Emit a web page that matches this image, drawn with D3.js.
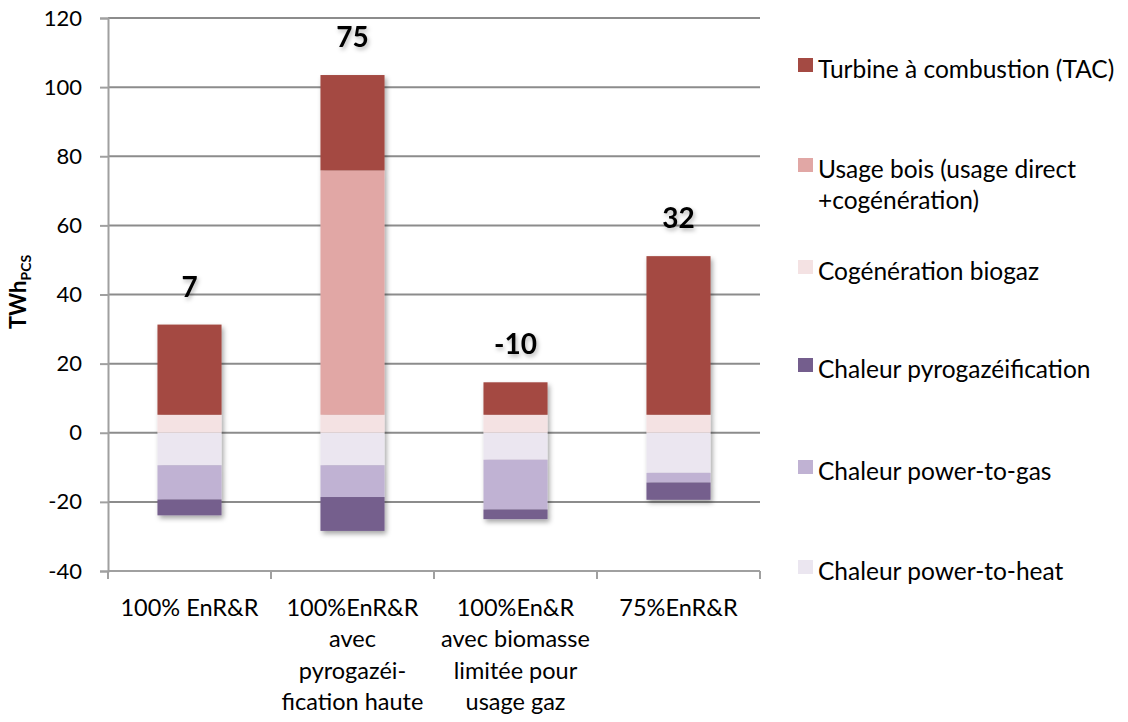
<!DOCTYPE html>
<html>
<head>
<meta charset="utf-8">
<script src="https://cdn.jsdelivr.net/npm/d3@7"></script>
<style>
  body { margin: 0; background: #fff; }
  svg { font-family: Lato, "Open Sans", sans-serif; }
</style>
</head>
<body>
<svg id="chart" width="1128" height="722"></svg>
<script>
// Scenario categories (multi-line labels)
const categories = [
  ["100% EnR&R"],
  ["100%EnR&R", "avec", "pyrogazéi-", "fication haute"],
  ["100%En&R", "avec biomasse", "limitée pour", "usage gaz"],
  ["75%EnR&R"]
];
const seriesNames = [
  "Chaleur power-to-heat",
  "Chaleur power-to-gas",
  "Chaleur pyrogazéification",
  "Cogénération biogaz",
  "Usage bois (usage direct +cogénération)",
  "Turbine à combustion (TAC)"
];
// TWh PCS per scenario, one array per series
const powerToHeat = [-9.4, -9.4, -7.8, -11.6];
const powerToGas  = [-9.9, -9.2, -14.4, -2.8];
const pyro        = [-4.6, -9.8, -2.8, -5.0];
const cogenBiogaz = [5.2, 5.2, 5.2, 5.2];
const usageBois   = [0, 70.7, 0, 0];
const tac         = [26.1, 27.6, 9.4, 45.9];
const totals      = [7, 75, -10, 32];
const yTicks      = [-40, -20, 0, 20, 40, 60, 80, 100, 120];

const colors = {
  "Turbine à combustion (TAC)": "#A44A43",
  "Usage bois (usage direct +cogénération)": "#E1A7A5",
  "Cogénération biogaz": "#F4E2E3",
  "Chaleur pyrogazéification": "#745E8D",
  "Chaleur power-to-gas": "#C0B2D3",
  "Chaleur power-to-heat": "#EBE6F0"
};

const svg = d3.select("#chart");
const defs = svg.append("defs");
const f = defs.append("filter").attr("id", "shadow")
  .attr("x", "-20%").attr("y", "-20%").attr("width", "140%").attr("height", "140%");
f.append("feDropShadow").attr("dx", 2).attr("dy", 3).attr("stdDeviation", 2.5)
  .attr("flood-color", "#000").attr("flood-opacity", 0.35);
const ft = defs.append("filter").attr("id", "tshadow")
  .attr("x", "-30%").attr("y", "-30%").attr("width", "160%").attr("height", "160%");
ft.append("feDropShadow").attr("dx", 1.5).attr("dy", 2.5).attr("stdDeviation", 2)
  .attr("flood-color", "#000").attr("flood-opacity", 0.3);

const plotLeft = 108, plotRight = 760, plotTop = 18, plotBottom = 571;
const x = d3.scaleBand().domain(d3.range(categories.length)).range([plotLeft, plotRight])
  .paddingInner(0.607).paddingOuter(0.3035);
const y = d3.scaleLinear().domain([-40, 120]).range([plotBottom, plotTop]);

// Gridlines
svg.append("g").selectAll("line").data(yTicks.filter(t => t !== -40)).join("line")
  .attr("x1", plotLeft).attr("x2", plotRight)
  .attr("y1", d => y(d)).attr("y2", d => y(d))
  .attr("stroke", "#8c8c8c").attr("stroke-width", 2);

// Y axis (plain hyphen for negatives)
const yAxis = svg.append("g").attr("transform", `translate(${plotLeft},0)`)
  .call(d3.axisLeft(y).tickValues(yTicks).tickFormat(d => String(d)).tickSize(8).tickPadding(18));
yAxis.select(".domain").attr("stroke", "#a0a0a0").attr("stroke-width", 2);
yAxis.selectAll(".tick line").attr("stroke", "#a0a0a0").attr("stroke-width", 2);
yAxis.selectAll(".tick text").attr("font-size", 22).attr("fill", "#000")
  .attr("font-family", "Lato, sans-serif");

// X axis baseline with category separators
const xAxisG = svg.append("g");
xAxisG.append("line").attr("x1", plotLeft).attr("x2", plotRight).attr("y1", plotBottom).attr("y2", plotBottom)
  .attr("stroke", "#a0a0a0").attr("stroke-width", 2);
const step = (plotRight - plotLeft) / categories.length;
xAxisG.selectAll("line.sep").data(d3.range(categories.length + 1)).join("line").attr("class", "sep")
  .attr("x1", i => plotLeft + i * step).attr("x2", i => plotLeft + i * step)
  .attr("y1", plotBottom).attr("y2", plotBottom + 8)
  .attr("stroke", "#a0a0a0").attr("stroke-width", 2);

// Category labels
categories.forEach((lines, i) => {
  const cx = x(i) + x.bandwidth() / 2;
  const t = svg.append("text").attr("text-anchor", "middle").attr("font-size", 23.5).attr("fill", "#000")
    .attr("x", cx).attr("y", 616);
  lines.forEach((l, k) => t.append("tspan").attr("x", cx).attr("dy", k === 0 ? 0 : 31.3).text(l));
});

// Stacked bars (positives upward from 0, negatives downward from 0)
const seriesData = {
  "Chaleur power-to-heat": powerToHeat,
  "Chaleur power-to-gas": powerToGas,
  "Chaleur pyrogazéification": pyro,
  "Cogénération biogaz": cogenBiogaz,
  "Usage bois (usage direct +cogénération)": usageBois,
  "Turbine à combustion (TAC)": tac
};
const barsG = svg.append("g");
categories.forEach((c, i) => {
  let pos = 0, neg = 0;
  const g = barsG.append("g").attr("filter", "url(#shadow)");
  seriesNames.forEach(name => {
    const v = seriesData[name][i];
    if (v === 0) return;
    let y0, y1;
    if (v > 0) { y0 = pos; y1 = pos + v; pos = y1; }
    else { y0 = neg; y1 = neg + v; neg = y1; }
    g.append("rect")
      .attr("x", x(i)).attr("width", x.bandwidth())
      .attr("y", y(Math.max(y0, y1))).attr("height", Math.abs(y(y0) - y(y1)))
      .attr("fill", colors[name]);
  });
  svg.append("text").attr("text-anchor", "middle").attr("font-size", 28).attr("font-weight", "bold")
    .attr("filter", "url(#tshadow)")
    .attr("x", x(i) + x.bandwidth() / 2).attr("y", y(pos) - 28)
    .text(totals[i]);
});

// Y axis title
const yt = svg.append("text").attr("transform", "translate(26,292) rotate(-90)")
  .attr("text-anchor", "middle").attr("font-size", 22).attr("font-weight", "bold");
yt.append("tspan").text("TWh");
yt.append("tspan").attr("font-size", 14).attr("dy", 5).text("PCS");

// Legend
const legendItems = [
  { name: "Turbine à combustion (TAC)", lines: ["Turbine à combustion (TAC)"], y: 70 },
  { name: "Usage bois (usage direct +cogénération)", lines: ["Usage bois (usage direct", "+cogénération)"], y: 170 },
  { name: "Cogénération biogaz", lines: ["Cogénération biogaz"], y: 272 },
  { name: "Chaleur pyrogazéification", lines: ["Chaleur pyrogazéification"], y: 370 },
  { name: "Chaleur power-to-gas", lines: ["Chaleur power-to-gas"], y: 472 },
  { name: "Chaleur power-to-heat", lines: ["Chaleur power-to-heat"], y: 572 }
];
const lg = svg.append("g");
legendItems.forEach(it => {
  lg.append("rect").attr("x", 798).attr("y", it.y - 12).attr("width", 15).attr("height", 14)
    .attr("fill", colors[it.name]);
  const t = lg.append("text").attr("font-size", 24.5).attr("x", 818).attr("y", it.y + 8);
  it.lines.forEach((l, k) => t.append("tspan").attr("x", 818).attr("dy", k === 0 ? 0 : 30.5).text(l));
});
</script>
</body>
</html>
